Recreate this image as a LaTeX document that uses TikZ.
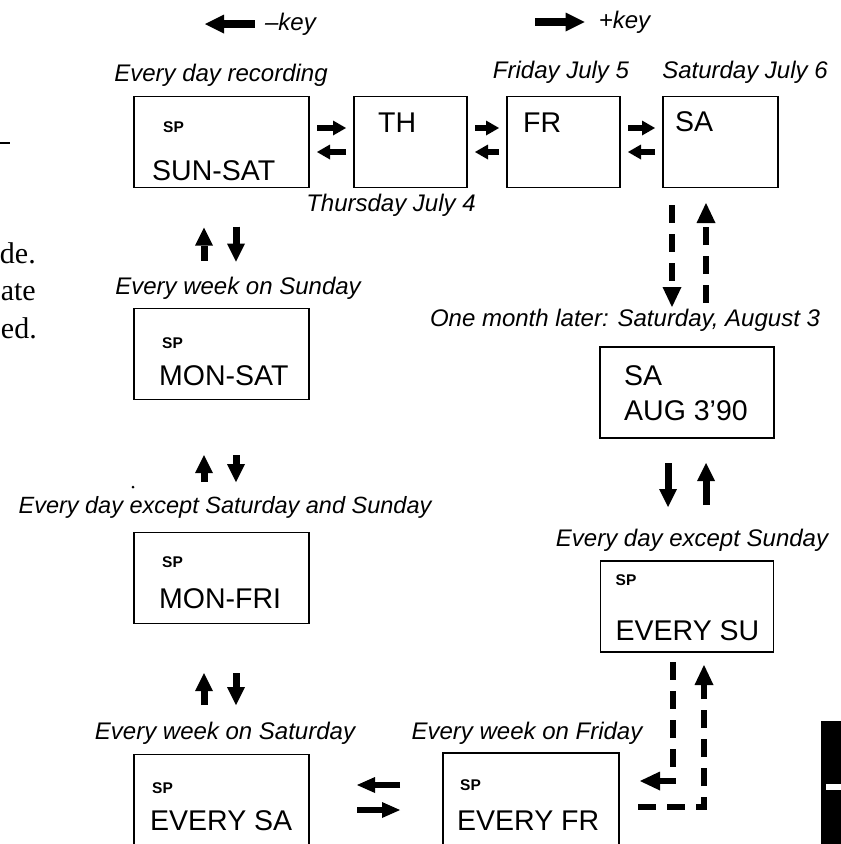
\documentclass[tikz,border=0pt]{standalone}
\usepackage{fontspec}
\setmainfont{Liberation Sans}
\newfontfamily\pageserif{Liberation Serif}
\usetikzlibrary{arrows.meta,positioning}

\begin{document}
\begin{tikzpicture}[x=1pt,y=-1pt,
  screen/.style={draw,line width=1.3pt,inner sep=0pt,outer sep=0pt,minimum height=91pt},
  sp/.style={anchor=base west,inner sep=0pt,font=\fontsize{15.5}{18}\selectfont\bfseries},
  big/.style={anchor=base west,inner sep=0pt,font=\fontsize{28.5}{34}\selectfont},
  lbl/.style={inner sep=0pt,font=\fontsize{24}{28}\selectfont\itshape},
  frag/.style={anchor=base east,inner sep=0pt,font=\pageserif\fontsize{30}{36}\selectfont},
  fwd/.style={line width=6pt,-{Triangle[length=13pt,width=15pt,line width=0pt]},shorten <=8pt,shorten >=8pt},
  vert/.style={line width=7pt,-{Triangle[length=18pt,width=18pt,line width=0pt]}},
  swap/.style={line width=6pt,-{Triangle[length=18pt,width=16pt,line width=0pt]}},
  jump/.style={line width=6pt,dash pattern=on 18pt off 11pt,-{Triangle[length=20pt,width=19pt,line width=0pt]}},
  keyarrow/.style={line width=8pt,-{Triangle[length=19pt,width=19pt,line width=0pt]}}]
\useasboundingbox (0,0) rectangle (841,844);
\clip (0,0) rectangle (841,844);

% key legend
\node[lbl] (minuskey) at (290.5,24) {--key};
\coordinate (minustip) at (205,24);
\draw[keyarrow,shorten <=10pt] (minuskey.west) -- (minustip);
\node[lbl] (pluskey) at (624.5,22) {+key};
\coordinate (plusend) at (535,22);
\draw[keyarrow,shorten >=14pt] (plusend) -- (pluskey.west);

% top row of displays
\node[screen,minimum width=175pt] (sunsat) at (221.5,142) {};
\node[screen,minimum width=113pt] (th) at (410.5,142) {};
\node[screen,minimum width=113pt] (fr) at (563.5,142) {};
\node[screen,minimum width=115pt] (sa) at (720.5,142) {};
\node[sp] at ([shift={(29,35.5)}]sunsat.north west) {SP};
\node[big] at ([shift={(18,83.5)}]sunsat.north west) {SUN-SAT};
\node[big] at ([shift={(24,35.5)}]th.north west) {TH};
\node[big] at ([shift={(16,35.5)}]fr.north west) {FR};
\node[big] at ([shift={(12,35)}]sa.north west) {SA};
\node[lbl] (recl) at (221,75) {Every day recording};
\node[lbl] (thl) at (391,205) {Thursday July 4};
\node[lbl] (frl) at (561,72) {Friday July 5};
\node[lbl] (sal) at (745,72) {Saturday July 6};

% left column
\node[screen,minimum width=175pt] (monsat) at (221.5,354) {};
\node[screen,minimum width=175pt] (monfri) at (221.5,578) {};
\node[screen,minimum width=175pt] (everysa) at (221.5,800) {};
\node[sp] at ([shift={(28,40)}]monsat.north west) {SP};
\node[big] at ([shift={(25,77)}]monsat.north west) {MON-SAT};
\node[sp] at ([shift={(28,34.5)}]monfri.north west) {SP};
\node[big] at ([shift={(25,75.5)}]monfri.north west) {MON-FRI};
\node[sp] at ([shift={(18,38.5)}]everysa.north west) {SP};
\node[big] at ([shift={(16,75.5)}]everysa.north west) {EVERY SA};
\node[lbl] (sunl) at (238,288) {Every week on Sunday};
\node[lbl,font=\fontsize{23.5}{28}\selectfont\itshape] (wkdl) at (225,507) {Every day except Saturday and Sunday};
\node[lbl] (satl) at (225,733) {Every week on Saturday};

% right column
\node[screen,minimum width=174pt] (aug) at (687,392.5) {};
\node[screen,minimum width=173pt] (everysu) at (687,606.5) {};
\node[screen,minimum width=176pt,minimum height=94pt] (everyfr) at (531,800) {};
\node[big] at ([shift={(24,38)}]aug.north west) {SA};
\node[big] at ([shift={(24,73)}]aug.north west) {AUG 3'90};
\node[sp] at ([shift={(15,24)}]everysu.north west) {SP};
\node[big] at ([shift={(15,79)}]everysu.north west) {EVERY SU};
\node[sp] at ([shift={(17,37)}]everyfr.north west) {SP};
\node[big] at ([shift={(14,77)}]everyfr.north west) {EVERY FR};
\node[lbl] (monthl) at (625,320) {One month later: Saturday, August 3};
\node[lbl] (exsunl) at (692,540) {Every day except Sunday};
\node[lbl] (fril) at (527,733) {Every week on Friday};

% day steps
\draw[fwd] ([yshift=14pt]sunsat.east) -- ([yshift=14pt]th.west);
\draw[fwd] ([yshift=-10pt]th.west) -- ([yshift=-10pt]sunsat.east);
\draw[fwd] ([yshift=14pt]th.east) -- ([yshift=14pt]fr.west);
\draw[fwd] ([yshift=-10pt]fr.west) -- ([yshift=-10pt]th.east);
\draw[fwd] ([yshift=14pt]fr.east) -- ([yshift=14pt]sa.west);
\draw[fwd] ([yshift=-10pt]sa.west) -- ([yshift=-10pt]fr.east);

% left column steps
\draw[vert,shorten <=48pt,shorten >=40pt] ([xshift=-17.5pt]monsat.north) -- ([xshift=-17.5pt]sunsat.south);
\draw[vert,shorten <=39pt,shorten >=47pt] ([xshift=14.5pt]sunsat.south) -- ([xshift=14.5pt]monsat.north);
\draw[vert,shorten <=50.5pt,shorten >=55.5pt] ([xshift=-17.5pt]monfri.north) -- ([xshift=-17.5pt]monsat.south);
\draw[vert,shorten <=55.5pt,shorten >=50.5pt] ([xshift=14.5pt]monsat.south) -- ([xshift=14.5pt]monfri.north);
\draw[vert,shorten <=49.5pt,shorten >=49.5pt] ([xshift=-17.5pt]everysa.north) -- ([xshift=-17.5pt]monfri.south);
\draw[vert,shorten <=49.5pt,shorten >=49.5pt] ([xshift=14.5pt]monfri.south) -- ([xshift=14.5pt]everysa.north);

% right column steps
\draw[jump,shorten <=17.5pt,shorten >=40pt] ([xshift=-48.5pt]sa.south) -- ([xshift=-15pt]aug.north);
\draw[jump,shorten <=44pt,shorten >=15.5pt] ([xshift=19pt]aug.north) -- ([xshift=-14.5pt]sa.south);
\draw[vert,shorten <=25pt,shorten >=54pt] ([xshift=-19pt]aug.south) -- ([xshift=-19pt]everysu.north);
\draw[vert,shorten <=56pt,shorten >=25pt] ([xshift=19pt]everysu.north) -- ([xshift=19pt]aug.south);
\draw[jump,shorten <=10pt,shorten >=21pt] ([xshift=-14pt]everysu.south) |- ([yshift=19pt]everyfr.east);
\draw[jump,shorten <=19pt,shorten >=13pt] ([yshift=-7pt]everyfr.east) -| ([xshift=17pt]everysu.south);

% bottom row steps
\draw[swap,shorten <=43pt,shorten >=48pt] ([yshift=15pt]everyfr.west) -- ([yshift=15pt]everysa.east);
\draw[swap,shorten <=48pt,shorten >=43pt] ([yshift=-10pt]everysa.east) -- ([yshift=-10pt]everyfr.west);

% page leftovers
\draw[line width=1.3pt] (0,143) -- (10,143);
\node[frag] (frag1) at (36,263) {de.};
\node[frag] (frag2) at (36,300) {ate};
\node[frag] (frag3) at (37,338) {ed.};
\fill (133,487) circle (1.5pt);
\fill (821,721) rectangle (841,844);
\fill[white] (826,784) rectangle (841,790);
\end{tikzpicture}
\end{document}
